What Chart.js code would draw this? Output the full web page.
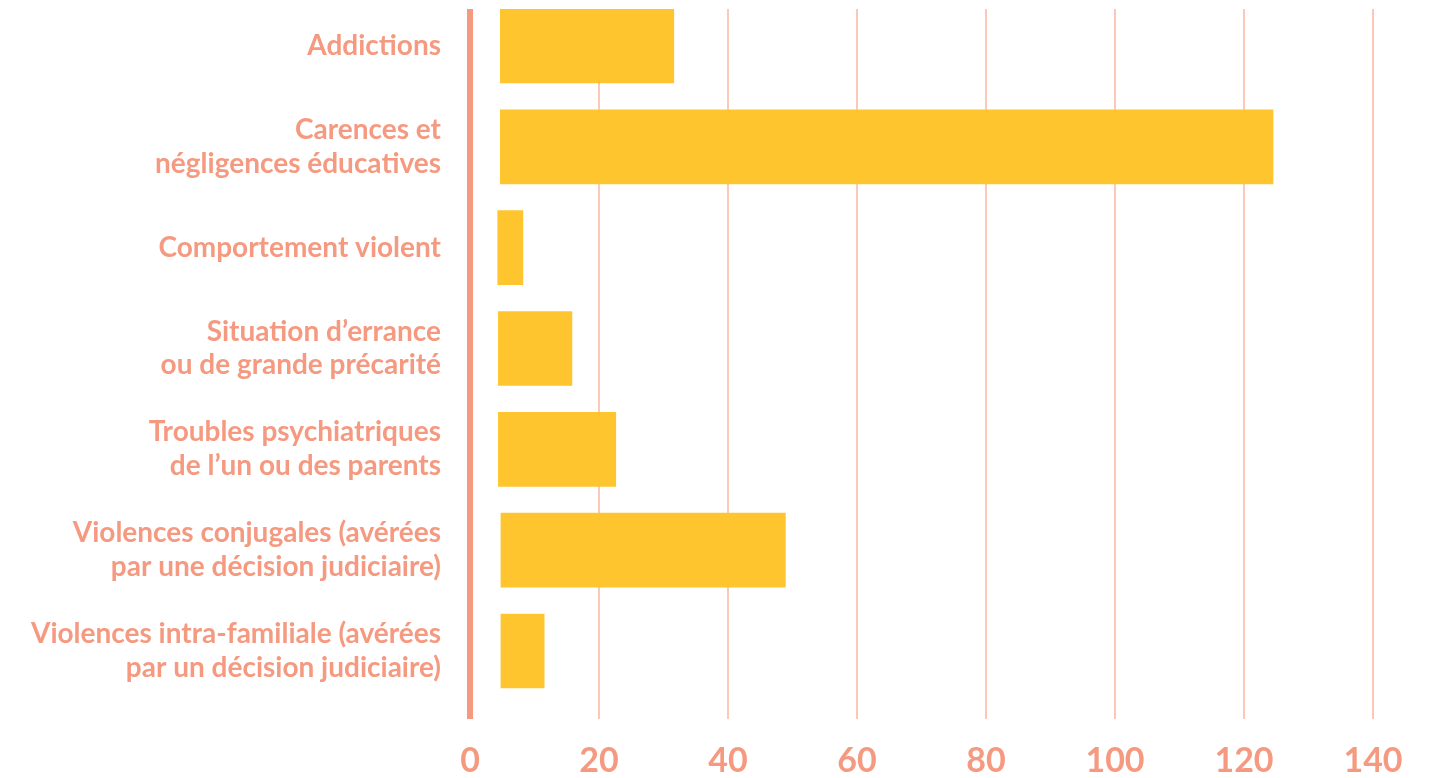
<!DOCTYPE html>
<html lang="fr">
<head>
<meta charset="utf-8">
<title>Motifs</title>
<script src="https://cdn.jsdelivr.net/npm/chart.js@4/dist/chart.umd.min.js"></script>
<style>
  html, body { margin: 0; padding: 0; background: #ffffff; }
  #wrap { width: 1433px; height: 778px; }
</style>
</head>
<body>
<div id="wrap"><canvas id="motifsChart"></canvas></div>
<script>
// Catégories (une ligne de libellé par élément du tableau)
const categories = [
    ['Addictions'],
    ['Carences et', 'négligences éducatives'],
    ['Comportement violent'],
    ['Situation d’errance', 'ou de grande précarité'],
    ['Troubles psychiatriques', 'de l’un ou des parents'],
    ['Violences conjugales (avérées', 'par une décision judiciaire)'],
    ['Violences intra-familiale (avérées', 'par un décision judiciaire)']
];

// Début et fin de chaque barre sur l'axe des valeurs
const barStart = [4.7, 4.7, 4.3, 4.4, 4.4, 4.8, 4.8];
const barEnd = [31.6, 124.5, 8.2, 15.8, 22.6, 48.9, 11.5];

// Graduations de l'axe horizontal
const xTicks = [0, 20, 40, 60, 80, 100, 120, 140];

const SALMON = '#F59A80';
const GRID = '#FCC8BA';
const YELLOW = '#FEC52F';

function initChart() {
    const ctx = document.getElementById('motifsChart').getContext('2d');

    const points = categories.map((_, i) => ({ y: i, x: [barStart[i], barEnd[i]] }));

    new Chart(ctx, {
        type: 'bar',
        data: {
            datasets: [{
                data: points,
                backgroundColor: YELLOW,
                borderWidth: 0,
                barThickness: 74
            }]
        },
        options: {
            indexAxis: 'y',
            responsive: true,
            maintainAspectRatio: false,
            animation: false,
            layout: { padding: { top: 9, right: 60, bottom: 0, left: 0 } },
            plugins: {
                legend: { display: false },
                tooltip: { enabled: false }
            },
            scales: {
                x: {
                    type: 'linear',
                    min: xTicks[0],
                    max: xTicks[xTicks.length - 1],
                    afterBuildTicks: (scale) => {
                        scale.ticks = xTicks.map(v => ({ value: v }));
                    },
                    afterFit: (scale) => {
                        scale.height = 59;
                        scale.paddingLeft = 0;
                        scale.paddingRight = 0;
                    },
                    border: { display: false },
                    grid: {
                        drawTicks: false,
                        color: (c) => c.tick && c.tick.value === 0 ? SALMON : GRID,
                        lineWidth: (c) => c.tick && c.tick.value === 0 ? 6 : 2
                    },
                    ticks: {
                        padding: 22,
                        color: SALMON,
                        font: { family: 'Lato', weight: 'bold', size: 34 }
                    }
                },
                y: {
                    type: 'linear',
                    reverse: true,
                    offset: false,
                    min: -0.367,
                    max: 6.674,
                    afterBuildTicks: (scale) => {
                        scale.ticks = categories.map((_, i) => ({ value: i }));
                    },
                    afterFit: (scale) => {
                        scale.width = 470;
                        scale.paddingTop = 0;
                        scale.paddingBottom = 0;
                    },
                    border: { display: false },
                    grid: { display: false, drawTicks: false, offset: false },
                    ticks: {
                        padding: 29,
                        color: SALMON,
                        font: { family: 'Lato', weight: 'bold', size: 28, lineHeight: 1.21 },
                        callback: (value) => categories[value] || ''
                    }
                }
            }
        }
    });
}

document.addEventListener('DOMContentLoaded', initChart);
</script>
</body>
</html>
